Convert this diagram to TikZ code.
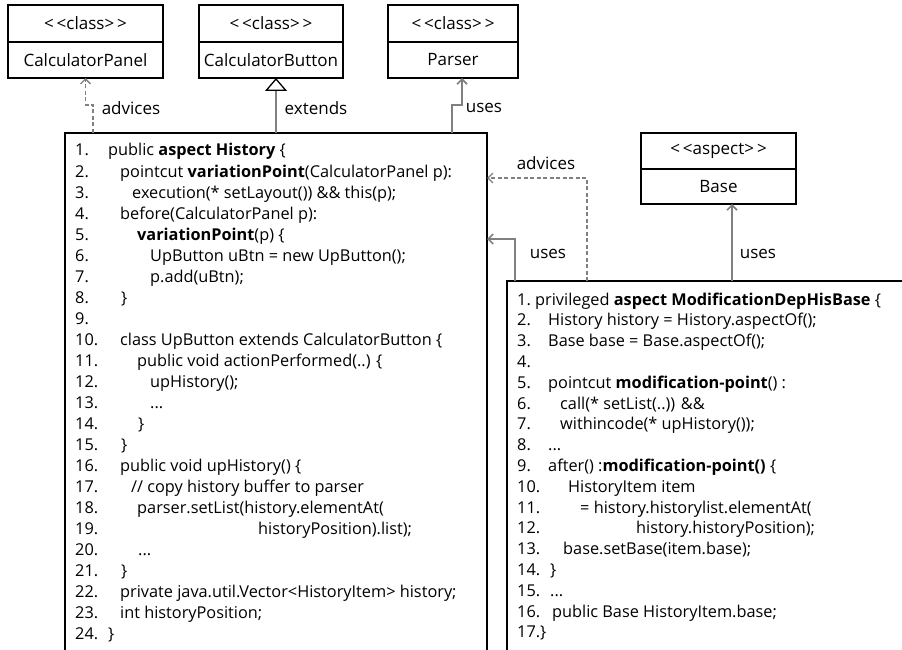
\documentclass[tikz,border=0pt]{standalone}
\usepackage{fontspec}
\setmainfont{Open Sans}
\usetikzlibrary{arrows.meta,calc}

% one line of code in the History aspect: number, x of the text, text
\newcommand\hcode[3]{%
  \node[code] (hn#1) at (75,{156+21*(#1-1)}) {#1.};
  \node[code] (ht#1) at (#2,{156+21*(#1-1)}) {#3};}
\newcommand\hnum[1]{%
  \node[code] (hn#1) at (75,{156+21*(#1-1)}) {#1.};}
% one line of code in the ModificationDepHisBase aspect
\newcommand\mcode[3]{%
  \node[code] (mn#1) at (517,{305+20.8*(#1-1)}) {#1.};
  \node[code] (mt#1) at (#2,{305+20.8*(#1-1)}) {#3};}
\newcommand\mnum[1]{%
  \node[code] (mn#1) at (517,{305+20.8*(#1-1)}) {#1.};}
\newcommand\stereo[1]{<\kern3pt<#1>\kern3pt>}

\begin{document}
\begin{tikzpicture}[x=1pt,y=-1pt,
  box/.style={draw=black, line width=1.6pt, inner sep=0pt, outer sep=0pt,
    font=\fontsize{17}{20}\selectfont},
  code/.style={anchor=base west, inner sep=0pt, font=\fontsize{16.3}{21}\selectfont},
  lbl/.style={inner sep=0pt, font=\fontsize{17}{20}\selectfont},
  conn/.style={draw=black!50, line width=1.6pt},
  dconn/.style={draw=black!50, line width=1.3pt, dash pattern=on 4pt off 2.5pt},
  barb/.style={-{Straight Barb[length=5pt,width=10pt]}},
  inherit/.style={-{Triangle[open,length=13pt,width=22pt,color=black,line width=1.3pt]}}]

\useasboundingbox (0,0) rectangle (902,650);
\clip (0,0) rectangle (902,650);

% classes along the top
\node[box, anchor=north west, minimum width=155, minimum height=37] (panelHead) at (8,5) {\stereo{class}};
\node[box, anchor=north, minimum width=155, minimum height=36] (panel) at (panelHead.south) {CalculatorPanel};
\node[box, anchor=north west, minimum width=144, minimum height=37] (buttonHead) at (199,5) {\stereo{class}};
\node[box, anchor=north, minimum width=144, minimum height=36] (button) at (buttonHead.south) {CalculatorButton};
\node[box, anchor=north west, minimum width=130, minimum height=37] (parserHead) at (388,5) {\stereo{class}};
\node[box, anchor=north, minimum width=130, minimum height=36] (parser) at (parserHead.south) {Parser};

% Base aspect
\node[box, anchor=north west, minimum width=155, minimum height=36] (baseHead) at (641,133) {\stereo{aspect}};
\node[box, anchor=north, minimum width=155, minimum height=35] (base) at (baseHead.south) {Base};

% code boxes (running past the lower edge)
\node[box, anchor=north west, minimum width=422, minimum height=560] (hist) at (65,133) {};
\node[box, anchor=north west, minimum width=410, minimum height=369.5] (mod) at (507,281) {};

% History aspect
\hcode{1}{108}{public \textbf{aspect History} \{}
\hcode{2}{120}{pointcut \textbf{variationPoint}(CalculatorPanel p):}
\hcode{3}{132}{execution(* setLayout()) \&\& this(p);}
\hcode{4}{120}{before(CalculatorPanel p):}
\hcode{5}{137}{\textbf{variationPoint}(p) \{}
\hcode{6}{150}{UpButton uBtn = new UpButton();}
\hcode{7}{150}{p.add(uBtn);}
\hcode{8}{121}{\}}
\hnum{9}
\hcode{10}{120}{class UpButton extends CalculatorButton \{}
\hcode{11}{137}{public void actionPerformed(..) \{}
\hcode{12}{150}{upHistory();}
\hcode{13}{150}{...}
\hcode{14}{138}{\}}
\hcode{15}{121}{\}}
\hcode{16}{120}{public void upHistory() \{}
\hcode{17}{131}{// copy history buffer to parser}
\hcode{18}{137}{parser.setList(history.elementAt(}
\hcode{19}{258}{historyPosition).list);}
\hcode{20}{138}{...}
\hcode{21}{121}{\}}
\hcode{22}{120}{private java.util.Vector<HistoryItem> history;}
\hcode{23}{120}{int historyPosition;}
\hcode{24}{108}{\}}

% ModificationDepHisBase aspect
\mcode{1}{535}{privileged \textbf{aspect ModificationDepHisBase} \{}
\mcode{2}{548}{History history = History.aspectOf();}
\mcode{3}{548}{Base base = Base.aspectOf();}
\mnum{4}
\mcode{5}{548}{pointcut \textbf{modification-point}() :}
\mcode{6}{560}{call(* setList(..)) \&\&}
\mcode{7}{560}{withincode(* upHistory());}
\mcode{8}{548}{...}
\mcode{9}{548}{after() :\textbf{modification-point()} \{}
\mcode{10}{568}{HistoryItem item}
\mcode{11}{580}{= history.historylist.elementAt(}
\mcode{12}{636}{history.historyPosition);}
\mcode{13}{563}{base.setBase(item.base);}
\mcode{14}{550}{\}}
\mcode{15}{550}{...}
\mcode{16}{552}{public Base HistoryItem.base;}
\node[code] (mn17) at (517,{305+20.8*16}) {17.\}};

% connectors
\draw[dconn, barb] ($(hist.north west)+(28,0)$) -- ++(0,-28) -| (panel.south);
\node[lbl] (advA) at (131,108) {advices};

\draw[conn, inherit] ($(button.south)+(5,0)$) ++(0,55) -- ($(button.south)+(5,0)$);
\node[lbl] (extA) at (316,108) {extends};

\draw[conn, barb] ($(hist.north west)+(387,0)$) -- ++(0,-28) -| ($(parser.south)+(9,0)$);
\node[lbl] (usesA) at (484,108) {uses};

\draw[dconn, barb] ($(mod.north west)+(80,0)$) |- ($(hist.north east)+(0,45)$);
\node[lbl] (advB) at (546,163) {advices};

\draw[conn, barb] ($(mod.north west)+(8,0)$) |- ($(hist.north east)+(0,106)$);
\node[lbl] (usesB) at (548,254) {uses};

\draw[conn, barb] (mod.north -| {$(base.south)+(13.5,0)$}) -- ($(base.south)+(13.5,0)$);
\node[lbl] (usesC) at (758,254) {uses};
\end{tikzpicture}
\end{document}
